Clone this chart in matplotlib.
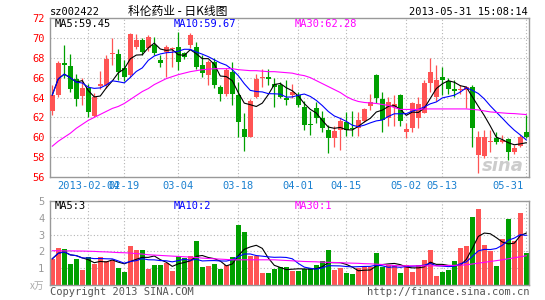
import matplotlib
matplotlib.use("Agg")
import matplotlib.pyplot as plt
import pandas as pd

# ---------------- data ----------------
opens = [62.6, 64.25, 67.45, 67.2, 65.9, 64.2, 65.0, 62.1, 65.2, 65.3,
         68.35, 68.4, 67.0, 66.3, 69.1, 69.8, 68.95, 69.3, 67.8, 68.6,
         68.85, 69.1, 68.45, 69.3, 69.1, 67.27, 66.26, 67.6, 65.1, 64.4,
         66.6, 64.25, 60.85, 60.0, 64.1, 66.0, 66.1, 65.4, 65.3, 64.0,
         64.3, 64.25, 63.08, 61.3, 62.9, 61.9, 60.7, 59.96, 60.73, 61.57,
         60.95, 60.9, 61.64, 63.1, 66.3, 63.85, 61.9, 63.08, 64.25, 60.5,
         60.9, 61.9, 62.4, 65.43, 64.08, 66.1, 65.66, 64.86, 64.75, 64.76,
         65.09, 58.2, 58.1, 59.5, 59.96, 59.5, 59.8, 58.48, 59.15, 60.5]
highs = [65.3, 67.7, 69.3, 68.4, 66.4, 66.0, 65.4, 64.5, 66.7, 68.3,
         70.0, 68.9, 67.8, 70.5, 70.4, 70.0, 70.3, 70.1, 68.3, 69.3,
         69.1, 70.6, 68.6, 70.45, 69.6, 68.3, 67.8, 67.95, 65.26, 67.0,
         67.6, 65.6, 62.4, 63.8, 66.35, 66.9, 66.9, 66.0, 65.6, 65.76,
         65.4, 64.6, 63.6, 62.6, 63.5, 62.6, 61.24, 61.1, 61.9, 62.58,
         62.6, 62.58, 62.9, 64.4, 66.35, 64.6, 64.1, 64.3, 64.4, 61.4,
         63.5, 64.1, 65.76, 68.0, 67.27, 67.1, 65.93, 65.76, 65.26, 65.2,
         65.26, 60.6, 60.75, 60.73, 60.5, 60.2, 59.9, 59.2, 60.2, 62.24]
lows = [62.2, 64.1, 66.0, 64.6, 63.1, 63.2, 62.0, 62.0, 64.85, 65.0,
        67.3, 65.8, 65.7, 66.1, 68.9, 68.3, 68.7, 68.3, 67.1, 66.1,
        67.1, 66.8, 67.9, 69.0, 66.9, 66.1, 65.26, 65.0, 63.6, 64.2,
        63.25, 60.0, 58.6, 60.0, 64.0, 65.1, 65.26, 63.0, 63.9, 63.25,
        63.9, 63.0, 60.75, 60.2, 61.4, 60.5, 58.4, 59.05, 58.72, 60.1,
        60.1, 60.1, 61.5, 62.75, 63.4, 60.57, 61.1, 61.1, 61.1, 59.96,
        60.5, 60.9, 62.4, 64.6, 63.6, 64.25, 64.4, 64.08, 64.4, 62.9,
        59.05, 56.45, 57.9, 58.55, 59.3, 59.4, 57.7, 58.3, 59.0, 59.9]
closes = [64.25, 67.5, 67.3, 64.9, 63.8, 65.0, 62.5, 64.1, 65.35, 67.9,
          68.45, 66.6, 66.1, 70.4, 69.8, 68.6, 70.1, 68.45, 67.45, 69.1,
          68.95, 67.6, 68.1, 70.3, 67.1, 66.45, 67.6, 65.26, 64.4, 66.8,
          64.4, 61.57, 60.0, 63.6, 65.9, 66.1, 65.85, 65.1, 64.1, 63.75,
          64.6, 63.25, 61.24, 61.2, 61.9, 60.9, 59.9, 60.6, 61.64, 60.73,
          60.8, 61.7, 62.8, 63.5, 63.9, 61.75, 63.5, 63.3, 61.64, 60.83,
          63.4, 63.3, 65.43, 66.6, 65.76, 65.8, 64.86, 64.66, 64.86, 65.09,
          60.9, 60.06, 60.0, 59.6, 59.5, 59.68, 58.48, 58.95, 60.06, 60.06]
volumes = [1.56, 2.22, 2.14, 1.26, 1.56, 0.90, 1.66, 1.26, 1.64, 1.40,
           1.50, 1.00, 0.78, 2.30, 2.06, 2.10, 0.98, 1.20, 1.20, 1.30,
           0.86, 1.74, 1.60, 1.70, 2.64, 1.10, 1.14, 1.26, 0.98, 1.22,
           1.66, 3.60, 3.16, 1.70, 1.70, 0.74, 0.74, 0.98, 1.06, 1.06,
           0.86, 0.86, 0.94, 1.00, 1.20, 1.44, 2.10, 0.90, 1.00, 0.70,
           0.64, 1.00, 1.06, 1.06, 1.90, 1.06, 1.20, 1.20, 0.70, 1.20,
           0.80, 1.20, 1.50, 2.10, 0.54, 0.80, 0.90, 1.40, 2.20, 2.30,
           4.06, 4.50, 2.40, 2.00, 1.14, 2.76, 3.94, 2.60, 4.26, 1.90]
price_ma30 = [59.1, 59.6, 60.0, 60.4, 60.9, 61.3, 61.7, 62.0, 62.3, 62.6,
              62.9, 63.1, 63.4, 63.8, 64.2, 64.6, 64.9, 65.3, 65.6, 65.9,
              66.1, 66.3, 66.45, 66.6, 66.7, 66.8, 66.85, 66.9, 66.9, 66.9,
              66.9, 66.8, 66.75, 66.7, 66.7, 66.65, 66.6, 66.6, 66.55, 66.5,
              66.45, 66.3, 66.2, 66.0, 65.7, 65.4, 65.1, 64.8, 64.5, 64.1,
              63.8, 63.6, 63.5, 63.45, 63.4, 63.3, 63.2, 63.0, 62.8, 62.8,
              62.8, 62.8, 62.85, 62.85, 62.85, 62.85, 62.85, 62.85, 62.85, 62.85,
              62.8, 62.75, 62.65, 62.55, 62.5, 62.45, 62.4, 62.38, 62.33, 62.28]
volume_ma30 = [2.04, 2.04, 2.03, 2.03, 2.02, 2.02, 2.01, 2.00, 1.98, 1.97,
               1.95, 1.93, 1.92, 1.90, 1.87, 1.84, 1.80, 1.78, 1.76, 1.74,
               1.72, 1.70, 1.68, 1.66, 1.64, 1.60, 1.58, 1.56, 1.54, 1.52,
               1.50, 1.50, 1.50, 1.50, 1.50, 1.50, 1.50, 1.50, 1.48, 1.46,
               1.44, 1.42, 1.40, 1.39, 1.38, 1.36, 1.35, 1.34, 1.33, 1.31,
               1.30, 1.29, 1.27, 1.26, 1.24, 1.22, 1.19, 1.16, 1.14, 1.14,
               1.14, 1.14, 1.14, 1.14, 1.14, 1.15, 1.16, 1.17, 1.18, 1.20,
               1.25, 1.30, 1.35, 1.40, 1.45, 1.50, 1.56, 1.62, 1.68, 1.74]
date_labels = ["2013-02-04", "02-19", "03-04", "03-18", "04-01",
               "04-15", "05-02", "05-13", "05-31"]
date_index = [6, 12, 21, 31, 41, 49, 59, 65, 79]
price_ticks = [56, 58, 60, 62, 64, 66, 68, 70, 72]
volume_ticks = [1, 2, 3, 4, 5]

# ---------------- style ----------------
RED = "#ff5454"
GREEN = "#00a000"
GRID = "#b4b4b4"
FRAME = "#999999"
BLUE_TXT = "#1a80d0"
MONO = "DejaVu Sans Mono"
CJK = ["Noto Sans CJK SC", "DejaVu Sans"]

W, H = 545, 300
fig = plt.figure(figsize=(W / 100, H / 100), dpi=100)
fig.patch.set_facecolor("white")


def rect(l, t, r, b):
    return [l / W, 1 - b / H, (r - l) / W, (b - t) / H]


axp = fig.add_axes(rect(50, 18, 529, 177))
axv = fig.add_axes(rect(50, 201, 529, 285))

n = len(closes)
xs = list(range(n))
colors = [RED if c >= o else GREEN for o, c in zip(opens, closes)]

for ax in (axp, axv):
    ax.set_xlim(-0.38, 79.45)
    for s in ax.spines.values():
        s.set_color(FRAME)
        s.set_linewidth(1.0)
    ax.set_xticks([])
    ax.tick_params(axis="y", length=0, pad=4)
    for xi in date_index:
        ax.axvline(xi, color=GRID, lw=0.8, ls=(0, (1, 2)), zorder=0)

# price panel
axp.set_ylim(56, 72)
axp.set_yticks(price_ticks)
axp.set_yticklabels([str(t) for t in price_ticks], color="#ff0000",
                    fontsize=7.5, family=MONO)
for t in price_ticks[1:-1]:
    axp.axhline(t, color=GRID, lw=0.8, ls=(0, (1, 2)), zorder=0)

bw = 0.8
for i in xs:
    o, h, l, c = opens[i], highs[i], lows[i], closes[i]
    col = colors[i]
    axp.vlines(i, l, h, color=col, lw=0.9, zorder=2)
    body = abs(c - o)
    if body < 0.08:
        axp.hlines((o + c) / 2, i - bw / 2, i + bw / 2, color=col, lw=1.0, zorder=3)
    else:
        axp.bar(i, body, bottom=min(o, c), width=bw, color=col, lw=0, zorder=3)

cs = pd.Series(closes)
ma5 = cs.rolling(5, min_periods=1).mean()
ma10 = cs.rolling(10, min_periods=1).mean()
axp.plot(xs, ma5, color="black", lw=0.8, zorder=4)
axp.plot(xs, ma10, color="#0000ff", lw=0.8, zorder=4)
axp.plot(xs, price_ma30, color="#ff00ff", lw=0.8, zorder=4)

# volume panel
axv.set_ylim(0, 5)
axv.set_yticks(volume_ticks)
axv.set_yticklabels([str(t) for t in volume_ticks], color="#999999",
                    fontsize=7.5, family=MONO)
for t in volume_ticks[:-1]:
    axv.axhline(t, color=GRID, lw=0.8, ls=(0, (1, 2)), zorder=0)
axv.bar(xs, volumes, width=bw, color=colors, lw=0, zorder=2)
vs = pd.Series(volumes)
axv.plot(xs, vs.rolling(5, min_periods=1).mean(), color="black", lw=0.8, zorder=4)
axv.plot(xs, vs.rolling(10, min_periods=1).mean(), color="#0000ff", lw=0.8, zorder=4)
axv.plot(xs, volume_ma30, color="#ff00ff", lw=0.8, zorder=4)

# date labels
for k, (xi, lab) in enumerate(zip(date_index, date_labels)):
    if k == len(date_index) - 1:
        axp.text(xi - 0.5, -9 / 159, lab, transform=axp.get_xaxis_transform(),
                 ha="right", va="center", color=BLUE_TXT, fontsize=7.5, family=MONO)
    else:
        axp.text(xi, -9 / 159, lab, transform=axp.get_xaxis_transform(),
                 ha="center", va="center", color=BLUE_TXT, fontsize=7.5, family=MONO)

# header texts
def ftext(px, py, s, **kw):
    fig.text(px / W, 1 - py / H, s, **kw)

ftext(50, 12, "sz002422", ha="left", va="center", fontsize=7.5, family=MONO, color="black")
ftext(178, 11, "科伦药业 - 日K线图", ha="center", va="center", fontsize=8.5,
      family=CJK, color="black")
ftext(528, 12, "2013-05-31 15:08:14", ha="right", va="center", fontsize=7.5,
      family=MONO, color="black")

ftext(55, 24, "MA5:59.45", ha="left", va="center", fontsize=7.5, family=MONO, color="black")
ftext(174, 24, "MA10:59.67", ha="left", va="center", fontsize=7.5, family=MONO, color="#0000ff")
ftext(295, 24, "MA30:62.28", ha="left", va="center", fontsize=7.5, family=MONO, color="#ff00ff")

ftext(55, 206, "MA5:3", ha="left", va="center", fontsize=7.5, family=MONO, color="black")
ftext(174, 206, "MA10:2", ha="left", va="center", fontsize=7.5, family=MONO, color="#0000ff")
ftext(295, 206, "MA30:1", ha="left", va="center", fontsize=7.5, family=MONO, color="#ff00ff")

ftext(44, 286, "x万", ha="right", va="center", fontsize=7, family=CJK, color="#aaaaaa")
ftext(50, 292, "Copyright 2013 SINA.COM", ha="left", va="center", fontsize=7.5,
      family=MONO, color="#555555")
ftext(529, 292, "http://finance.sina.com.cn", ha="right", va="center", fontsize=7.5,
      family=MONO, color="#555555")

# watermark
ftext(503, 166, "sina", ha="center", va="center", fontsize=13, style="italic",
      weight="bold", color="#cccccc", family="DejaVu Sans")

fig.savefig("out.png", dpi=100, facecolor="white")
